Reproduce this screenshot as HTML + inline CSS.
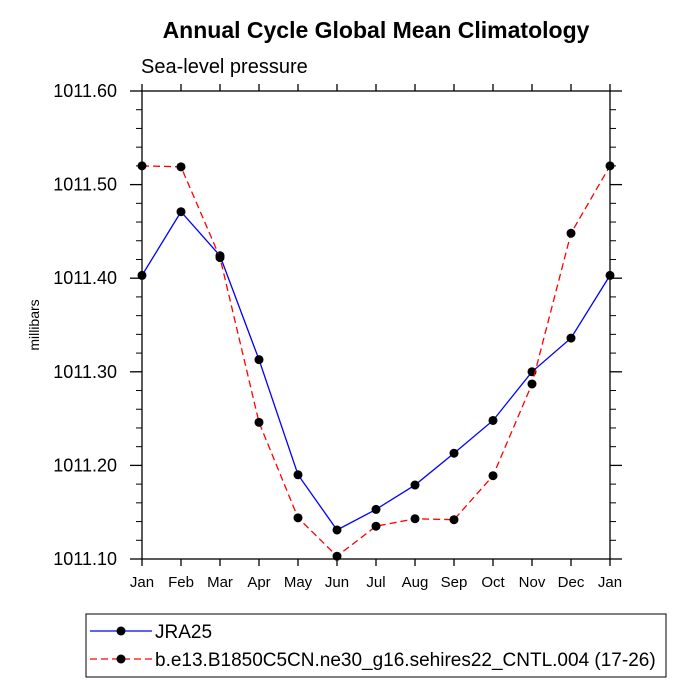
<!DOCTYPE html>
<html><head><meta charset="utf-8"><style>body{margin:0;background:#fff}svg{display:block;font-family:"Liberation Sans",sans-serif}</style></head>
<body>
<svg id="c" width="694" height="694">
<text x="376" y="38" text-anchor="middle" font-size="23" font-weight="bold">Annual Cycle Global Mean Climatology</text>
<text x="141" y="73" font-size="20">Sea-level pressure</text>
<text transform="translate(39,325) rotate(-90)" text-anchor="middle" font-size="14">millibars</text>
<g id="g"></g>
<rect x="86" y="614" width="580" height="63" fill="none" stroke="#000" stroke-width="1"/>
<g><line x1="90" y1="631" x2="152" y2="631" stroke="#00f" stroke-width="1.3"/><circle cx="121" cy="631" r="4.5"/><text x="155" y="638" font-size="19">JRA25</text></g>
<g><line x1="90" y1="659" x2="152" y2="659" stroke="#f00" stroke-width="1.3" stroke-dasharray="7,4"/><circle cx="121" cy="659" r="4.5"/><text x="155" y="666" font-size="19">b.e13.B1850C5CN.ne30_g16.sehires22_CNTL.004 (17-26)</text></g>
</svg>
<script>
const months=["Jan","Feb","Mar","Apr","May","Jun","Jul","Aug","Sep","Oct","Nov","Dec","Jan"];
const yTicks=[1011.10,1011.20,1011.30,1011.40,1011.50,1011.60];
const jra=[1011.403,1011.471,1011.424,1011.313,1011.190,1011.131,1011.153,1011.179,1011.213,1011.248,1011.300,1011.336,1011.403];
const model=[1011.520,1011.519,1011.422,1011.246,1011.144,1011.103,1011.135,1011.143,1011.142,1011.189,1011.287,1011.448,1011.520];
const L=142,R=610,T=91,B=559,ns="http://www.w3.org/2000/svg",g=document.getElementById('g');
const X=i=>L+(R-L)*i/(months.length-1), Y=v=>B-(v-1011.1)/(0.5)*(B-T);
function el(t,a,p){const e=document.createElementNS(ns,t);for(const k in a)e.setAttribute(k,a[k]);(p||g).appendChild(e);return e;}
const frame=el('rect',{x:L,y:T,width:R-L,height:B-T,fill:'none',stroke:'#000','stroke-width':1.3});


months.forEach((m,i)=>{const x=X(i);
 el('line',{x1:x,y1:B,x2:x,y2:B+7,stroke:'#000','stroke-width':1.3});
 el('line',{x1:x,y1:T,x2:x,y2:T-7,stroke:'#000','stroke-width':1.3});
 const t=el('text',{x:x,y:B+28,'text-anchor':'middle','font-size':15});t.textContent=m;
 
 
});
yTicks.forEach((v,i)=>{const y=Y(v);
 el('line',{x1:L-12,y1:y,x2:L,y2:y,stroke:'#000','stroke-width':1.3});
 el('line',{x1:R,y1:y,x2:R+12,y2:y,stroke:'#000','stroke-width':1.3});
 if(i<yTicks.length-1)for(let k=1;k<5;k++){const yy=Y(v+0.02*k);
  el('line',{x1:L-6,y1:yy,x2:L,y2:yy,stroke:'#000'});el('line',{x1:R,y1:yy,x2:R+6,y2:yy,stroke:'#000'});}
 const t=el('text',{x:L-25,y:y+6,'text-anchor':'end','font-size':18});t.textContent=v.toFixed(2);
 
 
});
function series(d,c,dash,name){
 const p=el('polyline',{points:d.map((v,i)=>X(i)+','+Y(v)).join(' '),fill:'none',stroke:c,'stroke-width':1.3,'stroke-dasharray':dash});
 
 
 d.forEach((v,i)=>{const c2=el('circle',{cx:X(i),cy:Y(v),r:4.5});
  
  });
}
series(jra,'#00f','none','jra25');
series(model,'#f00','7,4','model');
</script>
</body></html>
